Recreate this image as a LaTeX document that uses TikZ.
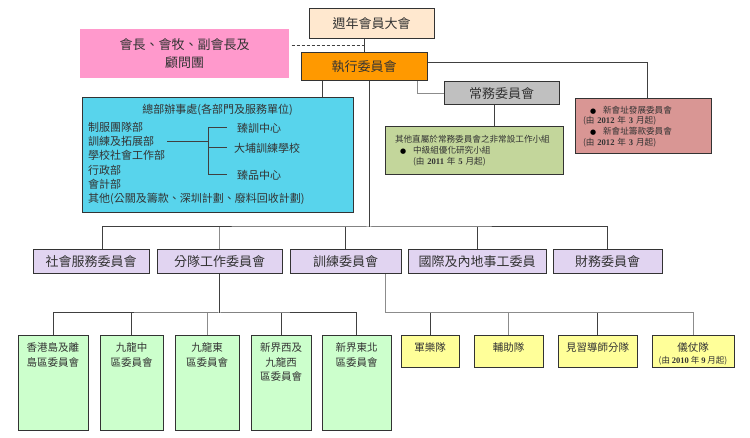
\documentclass[tikz,border=0pt]{standalone}
\usepackage{fontspec}
\setmainfont{Liberation Serif}
\newfontfamily\cjk{Noto Sans CJK TC}
\newfontfamily\symb{DejaVu Sans}
\usetikzlibrary{positioning}

\definecolor{meetfill}{HTML}{FFE8CF}
\definecolor{chairpink}{HTML}{FF99CC}
\definecolor{execorange}{HTML}{FF9900}
\definecolor{stdgray}{HTML}{C0C0C0}
\definecolor{workgreen}{HTML}{C3D69B}
\definecolor{siterose}{HTML}{D99694}
\definecolor{officecyan}{HTML}{58D4EC}
\definecolor{comlav}{HTML}{E1D4F1}
\definecolor{distgreen}{HTML}{CCFFCC}
\definecolor{unityellow}{HTML}{FFFF99}

\newcommand{\yr}[1]{{\rmfamily\bfseries #1}}
\newcommand{\blt}{{\symb\fontsize{7}{7}\selectfont\color{black}●}}

\tikzset{
  box/.style={draw=black!80, line width=1pt, inner sep=0pt, text=black!80},
  big/.style={font=\cjk\fontsize{13}{18}\selectfont},
  small/.style={font=\cjk\fontsize{8.6}{10.8}\selectfont},
  mid/.style={font=\cjk\fontsize{11}{14.2}\selectfont, inner sep=0pt, text=black!80},
  boxtext/.style={font=\cjk\fontsize{10.5}{14.5}\selectfont, align=center, inner sep=2pt, text=black!80},
  link/.style={draw=black!75, line width=1pt},
  linkg/.style={draw=black!45, line width=1pt}
}

\begin{document}
\begin{tikzpicture}[x=1pt,y=-1pt]
  \useasboundingbox (0,0) rectangle (750,438);
  \node[box, big, fill=meetfill, minimum width=125pt, minimum height=30pt] (meet) at (371.5,24) {週年會員大會};
  \node[box, big, draw=none, fill=chairpink, minimum width=209pt, minimum height=49pt, align=center] (chair) at (184.5,53.5) {會長、會牧、副會長及\\顧問團};
  \node[box, big, fill=execorange, minimum width=126pt, minimum height=28pt] (exec) at (364,67) {執行委員會};
  \node[box, big, fill=stdgray, minimum width=115pt, minimum height=23pt] (standing) at (501.5,93.5) {常務委員會};
  \node[box, small, fill=workgreen, minimum height=48pt, text width=158pt, inner xsep=10pt, align=left] (work) at (474,151) {其他直屬於常務委員會之非常設工作小組\\\hspace*{5pt}\blt\hspace{7pt}中級組優化研究小組\\\hspace*{18pt}(由 \yr{2011} 年 \yr{5} 月起)};
  \node[box, small, fill=siterose, minimum height=55pt, text width=120pt, inner xsep=8pt, align=left] (newsite) at (643,126.5) {\hspace*{7pt}\blt\hspace{7pt}新會址發展委員會\\(由 \yr{2012} 年 \yr{3} 月起)\\\hspace*{7pt}\blt\hspace{7pt}新會址籌款委員會\\(由 \yr{2012} 年 \yr{3} 月起)};

  \node[box, fill=officecyan, minimum width=271pt, minimum height=115pt] (office) at (217.5,155.5) {};
  \node[mid] (otitle) at (217.5,110) {總部辦事處(各部門及服務單位)};
  \node[mid, anchor=west, align=left] (olist) at (88,163.5) {制服團隊部\\訓練及拓展部\\學校社會工作部\\行政部\\會計部\\其他(公關及籌款、深圳計劃、廢料回收計劃)};
  \node[mid, anchor=west] (c1) at (237,128) {臻訓中心};
  \node[mid, anchor=west] (c2) at (234,148) {大埔訓練學校};
  \node[mid, anchor=west] (c3) at (237,175) {臻品中心};
  \coordinate (brkL) at (167,142);
  \coordinate (brk) at (208,142);

  \node[box, big, fill=comlav, minimum width=116pt, minimum height=24pt] (soc) at (91,262) {社會服務委員會};
  \node[box, big, fill=comlav, minimum width=125pt, minimum height=24pt] (team) at (219.5,262) {分隊工作委員會};
  \node[box, big, fill=comlav, minimum width=111pt, minimum height=24pt] (train) at (345.5,262) {訓練委員會};
  \node[box, big, fill=comlav, minimum width=138pt, minimum height=24pt] (intl) at (477,262) {國際及內地事工委員};
  \node[box, big, fill=comlav, minimum width=109pt, minimum height=24pt] (fin) at (607.5,262) {財務委員會};

  \node[box, fill=distgreen, minimum width=70pt, minimum height=94pt] (hk) at (53,383) {};
  \node[boxtext, below=5pt of hk.north] (hkt) {香港島及離\\島區委員會};
  \node[box, fill=distgreen, minimum width=63pt, minimum height=94pt] (kc) at (131.5,383) {};
  \node[boxtext, below=5pt of kc.north] (kct) {九龍中\\區委員會};
  \node[box, fill=distgreen, minimum width=64pt, minimum height=94pt] (ke) at (207,383) {};
  \node[boxtext, below=5pt of ke.north] (ket) {九龍東\\區委員會};
  \node[box, fill=distgreen, minimum width=60pt, minimum height=94pt] (ntw) at (281,383) {};
  \node[boxtext, below=5pt of ntw.north] (ntwt) {新界西及\\九龍西\\區委員會};
  \node[box, fill=distgreen, minimum width=69pt, minimum height=94pt] (ntne) at (356.5,383) {};
  \node[boxtext, below=5pt of ntne.north] (ntnet) {新界東北\\區委員會};

  \node[box, fill=unityellow, minimum width=58pt, minimum height=32pt] (band) at (430,352) {};
  \node[boxtext, below=5pt of band.north] (bandt) {軍樂隊};
  \node[box, fill=unityellow, minimum width=69pt, minimum height=32pt] (aux) at (508.5,352) {};
  \node[boxtext, below=5pt of aux.north] (auxt) {輔助隊};
  \node[box, fill=unityellow, minimum width=79pt, minimum height=32pt] (cadet) at (597.5,352) {};
  \node[boxtext, below=5pt of cadet.north] (cadett) {見習導師分隊};
  \node[box, fill=unityellow, minimum width=82pt, minimum height=32pt] (honor) at (693,352) {};
  \node[boxtext, below=5pt of honor.north] (honort) {儀仗隊\\[-3pt]{\fontsize{8.5}{10}\selectfont(由 \yr{2010} 年 \yr{9} 月起)}};

  \coordinate (dashL) at ([yshift=7.5pt]chair.east);
  \coordinate (offc) at ([xshift=-42pt]exec.south);
  \coordinate (stdc) at ([xshift=-7.5pt]standing.south);
  \coordinate (bus) at (369,227);
  \coordinate (bus2) at (219.5,313);
  \coordinate (bus3) at (385,313);

  \draw[link] (meet.south -| exec.north) -- (exec.north);
  \draw[link, dash pattern=on 3pt off 2pt] ([xshift=2pt]dashL) -- (dashL -| exec.north);
  \draw[link] (offc) -- (offc |- office.north);
  \draw[linkg] ([xshift=53pt]exec.south) |- (standing.west);
  \draw[link] (stdc) -- (stdc |- work.north);
  \draw[link] ([yshift=4pt]exec.east) -| ([xshift=4pt]newsite.north);
  \draw[link] (brkL) -- (brk);
  \draw[link] (brk |- c1) -- (brk |- c3);
  \draw[link, shorten >=10pt] (brk |- c1) -- (c1.west);
  \draw[link, shorten >=7pt] (brk |- c2) -- (c2.west);
  \draw[link, shorten >=10pt] (brk |- c3) -- (c3.west);

  \draw[link] ([xshift=5pt]exec.south) -- (bus);
  \draw[link] ([xshift=11pt]soc.north) |- (bus) -| (fin.north);
  \draw[linkg] (team.north) -- (team.north |- bus);
  \draw[link] (train.north) -- (train.north |- bus);
  \draw[link] (intl.north) -- (intl.north |- bus);

  \draw[link] (team.south) -- (bus2);
  \draw[link] (hk.north) |- (bus2) -| (ntne.north);
  \draw[link] (kc.north) -- (kc.north |- bus2);
  \draw[linkg] (ke.north) -- (ke.north |- bus2);
  \draw[link] (ntw.north) -- (ntw.north |- bus2);

  \draw[linkg] (train.south -| bus3) -- (bus3) -| (honor.north);
  \draw[link] (band.north) -- (band.north |- bus3);
  \draw[linkg] (aux.north) -- (aux.north |- bus3);
  \draw[link] (cadet.north) -- (cadet.north |- bus3);
\end{tikzpicture}
\end{document}
